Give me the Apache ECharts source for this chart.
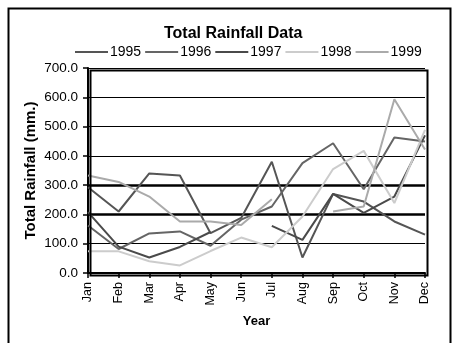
<!DOCTYPE html>
<html>
<head>
<meta charset="utf-8">
<script src="https://cdn.jsdelivr.net/npm/echarts@6/dist/echarts.min.js"></script>
<style>html,body{margin:0;padding:0;background:#fff;}#c{width:456px;height:343px;}</style>
</head>
<body>
<div id="c"></div>
<script>
var months = ['Jan','Feb','Mar','Apr','May','Jun','Jul','Aug','Sep','Oct','Nov','Dec'];
var yTicks = [0,100,200,300,400,500,600,700];
var years = ['1995','1996','1997','1998','1999'];
var r1995 = [293, 210, 340, 333, 136, 188, 380, 53, 270, 244, 176, 131];
var r1996 = [162, 82, 135, 142, 93, 182, 227, 375, 443, 286, 463, 449];
var r1997 = [208, 90, 53, 89, 140, null, 161, 113, 270, 205, 261, 470];
var r1998 = [74, 74, 40, 26, 75, 121, 88, 193, 355, 417, 239, 489];
var r1999 = [333, 311, 261, 176, 176, 164, 252, null, 210, 227, 593, 422];
var colors = ['#555555', '#656565', '#4a4a4a', '#cccccc', '#aaaaaa'];
var data = [r1995, r1996, r1997, r1998, r1999];

var FONT = '"Liberation Sans", Arial, sans-serif';
var chart = echarts.init(document.getElementById('c'));
var series = years.map(function (y, i) {
  var s = {
    name: y, type: 'line', data: data[i], symbol: 'none', connectNulls: false,
    lineStyle: { width: 2, color: colors[i] }, itemStyle: { color: colors[i] }, z: 3
  };
  if (i === 0) {
    s.markLine = {
      silent: true, symbol: 'none', label: { show: false },
      lineStyle: { color: '#000', width: 2.5, type: 'solid' },
      data: [{ yAxis: 200 }, { yAxis: 300 }], z: 1
    };
  }
  return s;
});
chart.setOption({
  animation: false,
  backgroundColor: '#fff',
  title: {
    text: 'Total Rainfall Data', left: 159, top: 21,
    textStyle: { fontFamily: FONT, fontSize: 16, fontWeight: 'bold', color: '#000' }
  },
  legend: {
    data: years, top: 45, left: 75, padding: 0, itemWidth: 33, itemHeight: 2, itemGap: 4, icon: 'rect',
    textStyle: { fontFamily: FONT, fontSize: 14, color: '#000', padding: [0, 0, 0, -3] }
  },
  grid: { left: 88, right: 31, top: 68, bottom: 70 },
  xAxis: {
    type: 'category', data: months, boundaryGap: false,
    name: 'Year', nameLocation: 'middle', nameGap: 42, nameMoveOverlap: false,
    nameTextStyle: { fontFamily: FONT, fontSize: 13, fontWeight: 'bold', color: '#000' },
    axisLine: { lineStyle: { color: '#000', width: 2 } },
    axisTick: { show: true, length: 5, lineStyle: { color: '#000', width: 1.5 } },
    axisLabel: { rotate: 90, margin: 9, fontFamily: FONT, fontSize: 12.5, color: '#000' }
  },
  yAxis: {
    type: 'value', min: yTicks[0], max: yTicks[yTicks.length - 1], interval: 100,
    name: 'Total Rainfall (mm.)', nameLocation: 'middle', nameGap: 50, nameMoveOverlap: false,
    nameTextStyle: { fontFamily: FONT, fontSize: 15, fontWeight: 'bold', color: '#000' },
    axisLine: { show: true, lineStyle: { color: '#000', width: 2 } },
    axisTick: { show: true, length: 5, lineStyle: { color: '#000', width: 1.5 } },
    axisLabel: { margin: 10, fontFamily: FONT, fontSize: 13.5, color: '#000',
      formatter: function (v) { return v.toFixed(1); } },
    splitLine: { show: true, lineStyle: { color: '#000', width: 1 } }
  },
  graphic: [
    { type: 'rect', left: 6, top: 6, shape: { width: 442, height: 345 },
      style: { fill: 'none', stroke: '#000', lineWidth: 2 }, silent: true },
    { type: 'rect', left: 88, top: 68, shape: { width: 337, height: 205 },
      style: { fill: 'none', stroke: '#000', lineWidth: 2 }, silent: true, z: 10 }
  ],
  series: series
});
</script>
</body>
</html>
